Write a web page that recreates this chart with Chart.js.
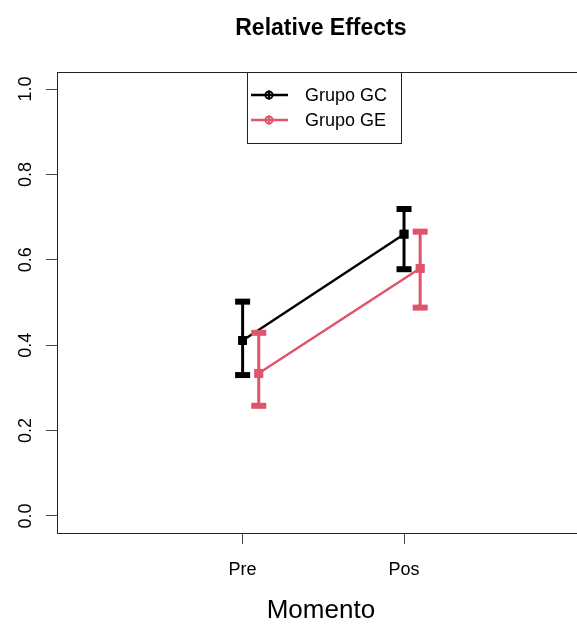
<!DOCTYPE html>
<html>
<head>
<meta charset="utf-8">
<script src="https://cdn.jsdelivr.net/npm/chart.js@4.4.1/dist/chart.umd.min.js"></script>
<style>
  html, body { margin: 0; padding: 0; overflow: hidden; background: #fff; }
  #wrap { width: 591px; height: 624px; }
</style>
</head>
<body>
<div id="wrap"><canvas id="chart" width="591" height="624"></canvas></div>
<script>
// Relative effects per group, with confidence limits
const categories = ['Pre', 'Pos'];
const seriesNames = ['Grupo GC', 'Grupo GE'];
const gcMean  = [0.411, 0.660];
const gcLower = [0.330, 0.578];
const gcUpper = [0.502, 0.719];
const geMean  = [0.334, 0.580];
const geLower = [0.258, 0.488];
const geUpper = [0.429, 0.666];
const yTickValues = [0.0, 0.2, 0.4, 0.6, 0.8, 1.0];

const BLACK = '#000000';
const RED = '#DF536B';
const FONT = "'Liberation Sans', Arial, sans-serif";

function makeSeries(label, color, mean, lower, upper, shift) {
  return {
    label: label,
    data: categories.map((c, i) => ({ x: i + 1 + shift, y: mean[i] })),
    lower: lower,
    upper: upper,
    borderColor: color,
    backgroundColor: color,
    pointBackgroundColor: color,
    pointBorderWidth: 0,
    pointStyle: 'rect',
    pointRadius: 6.2,
    pointHoverRadius: 6.2,
    borderWidth: 2.4,
    showLine: true,
    fill: false
  };
}

// Vertical error bars with thick caps
const errorBars = {
  id: 'errorBars',
  afterDatasetsDraw(chart) {
    const ctx = chart.ctx;
    const xs = chart.scales.x, ys = chart.scales.y;
    chart.data.datasets.forEach(ds => {
      ds.data.forEach((p, i) => {
        const x = xs.getPixelForValue(p.x);
        const yl = ys.getPixelForValue(ds.lower[i]);
        const yu = ys.getPixelForValue(ds.upper[i]);
        ctx.save();
        ctx.strokeStyle = ds.borderColor;
        ctx.fillStyle = ds.borderColor;
        ctx.lineWidth = 3;
        ctx.beginPath();
        ctx.moveTo(x, yl);
        ctx.lineTo(x, yu);
        ctx.stroke();
        ctx.fillRect(x - 7.5, yu - 3, 15, 6);
        ctx.fillRect(x - 7.5, yl - 3, 15, 6);
        ctx.fillRect(x - 4.4, ys.getPixelForValue(p.y) - 4.4, 8.8, 8.8);
        ctx.restore();
      });
    });
  }
};

// Frame top line, rotated y tick labels and the legend box
const decorations = {
  id: 'decorations',
  afterDraw(chart) {
    const ctx = chart.ctx;
    const a = chart.chartArea;
    const ys = chart.scales.y;
    ctx.save();
    ctx.strokeStyle = '#222';
    ctx.lineWidth = 1;
    ctx.beginPath();
    ctx.moveTo(a.left, a.top + 0.5);
    ctx.lineTo(a.right, a.top + 0.5);
    ctx.stroke();

    ctx.fillStyle = '#000';
    ctx.font = '18px ' + FONT;
    ctx.textAlign = 'center';
    ctx.textBaseline = 'alphabetic';
    ys.ticks.forEach(t => {
      const y = ys.getPixelForValue(t.value);
      ctx.save();
      ctx.translate(31, y);
      ctx.rotate(-Math.PI / 2);
      ctx.fillText(t.value.toFixed(1), 0, 0);
      ctx.restore();
    });

    // legend
    const lx = 247, ly = a.top, lw = 154, lh = 71;
    ctx.fillStyle = '#fff';
    ctx.fillRect(lx, ly, lw, lh);
    ctx.strokeStyle = '#222';
    ctx.lineWidth = 1;
    ctx.strokeRect(lx + 0.5, ly + 0.5, lw, lh);
    chart.data.datasets.forEach((ds, k) => {
      const ry = ly + 23 + k * 25;
      ctx.strokeStyle = ds.borderColor;
      ctx.lineWidth = 2.4;
      ctx.beginPath();
      ctx.moveTo(251, ry);
      ctx.lineTo(288, ry);
      ctx.stroke();
      ctx.lineWidth = 2;
      ctx.beginPath();
      ctx.arc(269, ry, 3.6, 0, Math.PI * 2);
      ctx.stroke();
      ctx.beginPath();
      ctx.moveTo(269, ry - 4.5);
      ctx.lineTo(269, ry + 4.5);
      ctx.stroke();
      ctx.fillStyle = '#000';
      ctx.font = '18px ' + FONT;
      ctx.textAlign = 'left';
      ctx.textBaseline = 'middle';
      ctx.fillText(ds.label, 305, ry + 1);
    });
    ctx.restore();
  }
};

new Chart(document.getElementById('chart'), {
  type: 'scatter',
  data: {
    datasets: [
      makeSeries(seriesNames[0], BLACK, gcMean, gcLower, gcUpper, 0),
      makeSeries(seriesNames[1], RED, geMean, geLower, geUpper, 0.1)
    ]
  },
  options: {
    responsive: false,
    animation: false,
    events: [],
    layout: { padding: 0 },
    plugins: {
      legend: { display: false },
      tooltip: { enabled: false },
      title: {
        display: true,
        text: 'Relative Effects',
        fullSize: false,
        color: '#000',
        font: { family: FONT, size: 23, weight: 'bold', lineHeight: 1.2 },
        padding: { top: 14.5, bottom: 29.9 }
      }
    },
    scales: {
      x: {
        type: 'linear',
        min: -0.15,
        max: 3.12,
        afterBuildTicks(s) { s.ticks = categories.map((c, i) => ({ value: i + 1 })); },
        afterFit(s) { s.height = 91; },
        ticks: {
          autoSkip: false,
          maxRotation: 0,
          padding: 15,
          color: '#000',
          font: { family: FONT, size: 18 },
          callback: v => categories[v - 1]
        },
        grid: { display: true, drawOnChartArea: false, drawTicks: true, tickLength: 11, color: '#444', lineWidth: 1 },
        border: { display: true, color: '#222', width: 1 },
        title: {
          display: true,
          text: 'Momento',
          color: '#000',
          font: { family: FONT, size: 26, lineHeight: 1.0 },
          padding: 0
        }
      },
      y: {
        type: 'linear',
        min: -0.04,
        max: 1.04,
        afterBuildTicks(s) { s.ticks = yTickValues.map(v => ({ value: v })); },
        afterFit(s) { s.width = 57; },
        ticks: { display: false },
        grid: { display: true, drawOnChartArea: false, drawTicks: true, tickLength: 11, color: '#444', lineWidth: 1 },
        border: { display: true, color: '#222', width: 1 }
      }
    }
  },
  plugins: [errorBars, decorations]
});
</script>
</body>
</html>
